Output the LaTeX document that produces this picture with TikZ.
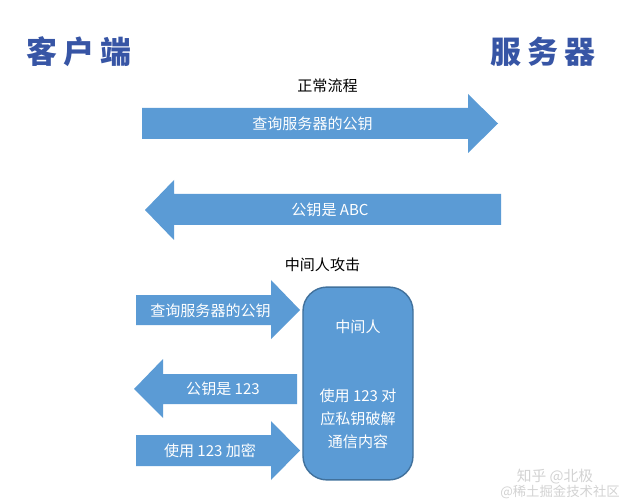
\documentclass[tikz,border=0pt]{standalone}
\usepackage{fontspec}
\setmainfont{Noto Sans CJK SC}
\usetikzlibrary{positioning}
\definecolor{flowblue}{RGB}{91,155,213}
\definecolor{flowedge}{RGB}{65,113,156}
\definecolor{titleblue}{RGB}{55,85,165}
\tikzset{
  flow/.style    = {fill=flowblue},
  inlabel/.style = {text=white,font=\fontsize{10.7pt}{16.3pt}\selectfont,
                    inner sep=0pt,align=center},
  caption/.style = {font=\fontsize{10.7pt}{13pt}\selectfont,inner sep=0pt},
  title/.style   = {text=titleblue,font=\fontsize{22pt}{26pt}\selectfont\bfseries,inner sep=0pt},
  mitm/.style    = {draw=flowedge,fill=flowblue,line width=1pt,rounded corners=0.6cm,
                    minimum width=2.75cm,minimum height=4.82cm,inner sep=0pt},
  wmark/.style   = {text=gray!35,inner sep=0pt},
}

\begin{document}
\begin{tikzpicture}[x=0.025cm,y=-0.025cm]
  \useasboundingbox (0,0) rectangle (624,504);

  % headings
  \node[title] (client) at (79,52) {客\hspace{4pt}户\hspace{4pt}端};
  \node[title] (server) at (543,52) {服\hspace{4pt}务\hspace{4pt}器};

  % normal flow
  \node[caption] (normal) at (327.5,86) {正常流程};
  \fill[flow] (142,108) -- (468,108) -- (468,94) -- (498,123.5)
    -- (468,153) -- (468,139) -- (142,139) -- cycle;
  \node[inlabel] (ask) at (312.5,123.5) {查询服务器的公钥};
  \fill[flow] (501,194) -- (174,194) -- (174,180) -- (145,210)
    -- (174,240) -- (174,225) -- (501,225) -- cycle;
  \node[inlabel] (reply) at (330,210) {公钥是 ABC};

  % man in the middle
  \node[caption] (attack) at (322.5,265) {中间人攻击};
  \node[mitm] (mid) at (358,383.5) {};
  \node[inlabel,below=0.82cm of mid.north] (midname) {中间人};
  \node[inlabel,below=2.55cm of mid.north,anchor=north] (midtext)
    {使用 123 对\\应私钥破解\\通信内容};

  \fill[flow] (136,295) -- (271,295) -- (271,280) -- (300,310)
    -- (271,339) -- (271,325) -- (136,325) -- cycle;
  \node[inlabel] (ask2) at (210.5,311) {查询服务器的公钥};
  \fill[flow] (297,374) -- (163,374) -- (163,359) -- (134,389)
    -- (163,418) -- (163,404) -- (297,404) -- cycle;
  \node[inlabel] (fake) at (223,389) {公钥是 123};
  \fill[flow] (136,435) -- (271,435) -- (271,421) -- (300,450.5)
    -- (271,480) -- (271,466) -- (136,466) -- cycle;
  \node[inlabel] (enc) at (210,451) {使用 123 加密};

  % watermark
  \node[wmark,font=\fontsize{10.5pt}{12pt}\selectfont] (wm1) at (555,477) {知乎 @北极};
  \node[wmark,font=\fontsize{9.5pt}{11pt}\selectfont] (wm2) at (560,492) {@稀土掘金技术社区};
\end{tikzpicture}
\end{document}
